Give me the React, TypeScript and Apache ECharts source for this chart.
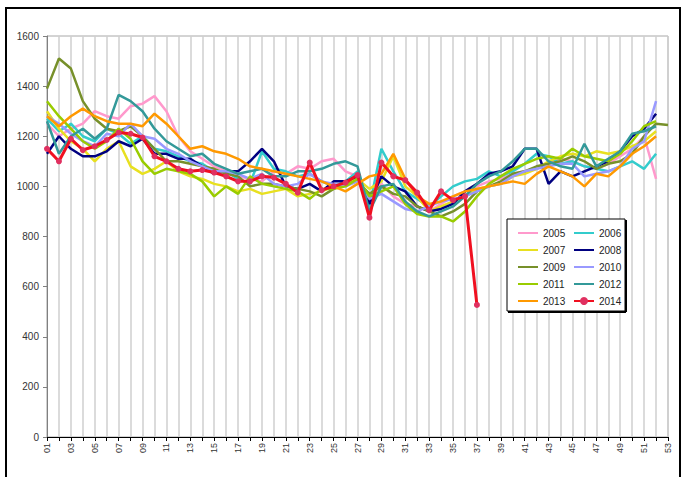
import React, { useEffect, useRef } from "react";
import * as echarts from "echarts";

const weeks = [
  "01","02","03","04","05","06","07","08","09","10","11","12","13","14","15","16","17","18","19","20",
  "21","22","23","24","25","26","27","28","29","30","31","32","33","34","35","36","37","38","39","40",
  "41","42","43","44","45","46","47","48","49","50","51","52","53",
];

const y2005 = [1250,1200,1230,1250,1300,1280,1270,1320,1330,1360,1300,1200,1140,1110,1080,1060,1040,1030,1020,1060,1050,1080,1070,1100,1110,1060,1040,940,1010,960,930,920,900,930,960,980,1000,1020,1030,1050,1060,1070,1090,1110,1100,1080,1070,1090,1120,1150,1200,1030];
const y2006 = [1270,1220,1250,1200,1180,1230,1210,1170,1200,1150,1140,1120,1100,1090,1060,1060,1030,1010,1140,1070,1060,1040,1050,1020,1000,1020,1060,920,1150,1060,980,950,920,960,1000,1020,1030,1060,1040,1060,1090,1130,1120,1090,1100,1080,1070,1060,1080,1100,1070,1130];
const y2007 = [1300,1230,1180,1150,1100,1150,1180,1080,1050,1070,1100,1060,1040,1030,1010,1000,980,990,970,980,990,960,970,980,1000,1010,1030,990,1020,1120,1000,960,900,920,940,960,990,1000,1010,1040,1050,1070,1100,1120,1130,1120,1140,1130,1140,1160,1180,1220];
const y2008 = [1130,1200,1150,1120,1120,1140,1180,1160,1190,1130,1130,1110,1110,1080,1050,1060,1060,1100,1150,1100,1000,990,1010,980,1020,1020,1040,930,1040,1000,980,920,900,910,930,980,1010,1050,1060,1080,1150,1150,1010,1060,1040,1060,1080,1100,1140,1200,1230,1290];
const y2009 = [1390,1510,1470,1340,1270,1230,1220,1240,1200,1150,1100,1100,1090,1080,1070,1050,1040,1000,1010,1010,1000,990,980,960,990,1010,1020,970,1000,970,960,920,900,880,900,930,980,1000,1020,1050,1060,1080,1090,1100,1120,1100,1070,1090,1100,1130,1200,1250,1245];
const y2010 = [1280,1250,1210,1180,1160,1210,1200,1250,1200,1190,1150,1130,1100,1080,1060,1060,1050,1030,1050,1010,1000,1010,1050,1020,1010,1000,1020,950,970,940,910,900,920,940,950,960,980,1000,1010,1040,1060,1070,1080,1090,1090,1040,1050,1060,1080,1150,1180,1340];
const y2011 = [1340,1280,1230,1180,1150,1180,1230,1190,1100,1050,1070,1060,1050,1020,960,1000,970,1040,1010,1000,990,980,950,990,990,1000,1030,960,980,1000,930,890,880,880,860,900,960,1010,1040,1070,1090,1110,1120,1110,1150,1120,1110,1100,1130,1180,1240,1260];
const y2012 = [1260,1130,1200,1230,1190,1230,1365,1340,1300,1230,1180,1150,1120,1130,1090,1070,1050,1060,1070,1040,1040,1060,1060,1070,1090,1100,1080,900,1000,1010,940,900,880,900,920,960,1010,1040,1060,1100,1150,1150,1100,1080,1070,1170,1080,1110,1140,1210,1220,1240];
const y2013 = [1280,1240,1280,1310,1280,1260,1250,1250,1240,1290,1250,1200,1150,1160,1140,1130,1110,1080,1070,1060,1050,1040,1030,1020,1000,980,1010,1040,1050,1130,1030,960,930,940,960,980,990,1000,1010,1020,1010,1050,1080,1060,1040,1000,1050,1040,1080,1130,1160,1200];
const y2014 = [1150,1100,1190,1145,1160,1185,1215,1210,1195,1120,1100,1070,1060,1065,1055,1040,1020,1020,1040,1035,1010,975,1095,985,1000,1015,1045,875,1095,1040,1025,975,905,980,945,960,527];

const seriesNames = ["2005","2006","2007","2008","2009","2010","2011","2012","2013","2014"];
const seriesValues = [y2005,y2006,y2007,y2008,y2009,y2010,y2011,y2012,y2013,y2014];
const seriesColors = ["#FF99CC","#33CCCC","#E8E020","#000080","#77902A","#9999FF","#99CC00","#339999","#FF9900","#F01020"];

const yTicks = { min: 0, max: 1600, interval: 200 };

export default function App() {
  const ref = useRef<HTMLDivElement>(null);
  useEffect(() => {
    if (!ref.current) return;
    const chart = echarts.init(ref.current, undefined, { renderer: "svg" });
    const font = "Liberation Sans";
    const series = seriesNames.map((name, i) => {
      const is2014 = name === "2014";
      return {
        name,
        type: "line",
        data: seriesValues[i],
        symbol: is2014 ? "circle" : "none",
        symbolSize: 6,
        showSymbol: is2014,
        lineStyle: { color: seriesColors[i], width: is2014 ? 3 : 2.5 },
        itemStyle: { color: is2014 ? "#E03060" : seriesColors[i] },
        z: 2 + i * 0.1,
      };
    });
    const legendItem = (name: string) =>
      name === "2014" ? { name } : { name, itemStyle: { opacity: 0 } };
    const legendCommon = {
      orient: "vertical",
      itemWidth: 20,
      itemHeight: 10,
      itemGap: 7,
      z: 6,
      textStyle: { fontFamily: font, fontSize: 10, color: "#222" },
    };
    chart.setOption({
      animation: false,
      backgroundColor: "#fff",
      grid: { left: 47, top: 36, right: 14, bottom: 40, show: true, borderColor: "#a8a8a8", borderWidth: 1 },
      xAxis: {
        type: "category",
        data: weeks,
        boundaryGap: false,
        axisLine: { lineStyle: { color: "#000", width: 1 } },
        axisTick: { show: true, interval: 0, length: 4, lineStyle: { color: "#000" } },
        axisLabel: { interval: 1, rotate: 90, fontFamily: font, fontSize: 9, color: "#333", margin: 6 },
        splitLine: { show: true, interval: 0, lineStyle: { color: "#cfcfcf", width: 1.5 } },
      },
      yAxis: {
        type: "value",
        min: yTicks.min,
        max: yTicks.max,
        interval: yTicks.interval,
        axisLine: { show: true, lineStyle: { color: "#808080", width: 1 } },
        axisTick: { show: true, length: 4, lineStyle: { color: "#808080" } },
        axisLabel: { fontFamily: font, fontSize: 10, color: "#333", margin: 8, formatter: (v: number) => String(v) },
        splitLine: { show: false },
      },
      legend: [
        { ...legendCommon, left: 512, top: 223, data: ["2005","2007","2009","2011","2013"].map(legendItem) },
        { ...legendCommon, left: 568, top: 223, data: ["2006","2008","2010","2012","2014"].map(legendItem) },
      ],
      graphic: [
        { type: "rect", shape: { x: 6, y: 8, width: 674, height: 480 }, style: { fill: "none", stroke: "#000", lineWidth: 2 }, z: 10 },
        { type: "rect", shape: { x: 507, y: 219, width: 118, height: 92 }, style: { fill: "#fff", stroke: "#000", lineWidth: 1 }, z: 5 },
        { type: "line", shape: { x1: 508, y1: 312, x2: 626, y2: 312 }, style: { stroke: "#000", lineWidth: 2 }, z: 5 },
        { type: "line", shape: { x1: 626, y1: 220, x2: 626, y2: 312 }, style: { stroke: "#000", lineWidth: 2 }, z: 5 },
      ],
      series,
    });
    return () => chart.dispose();
  }, []);
  return <div ref={ref} style={{ position: "fixed", left: 0, top: 0, width: 682, height: 477 }} />;
}
